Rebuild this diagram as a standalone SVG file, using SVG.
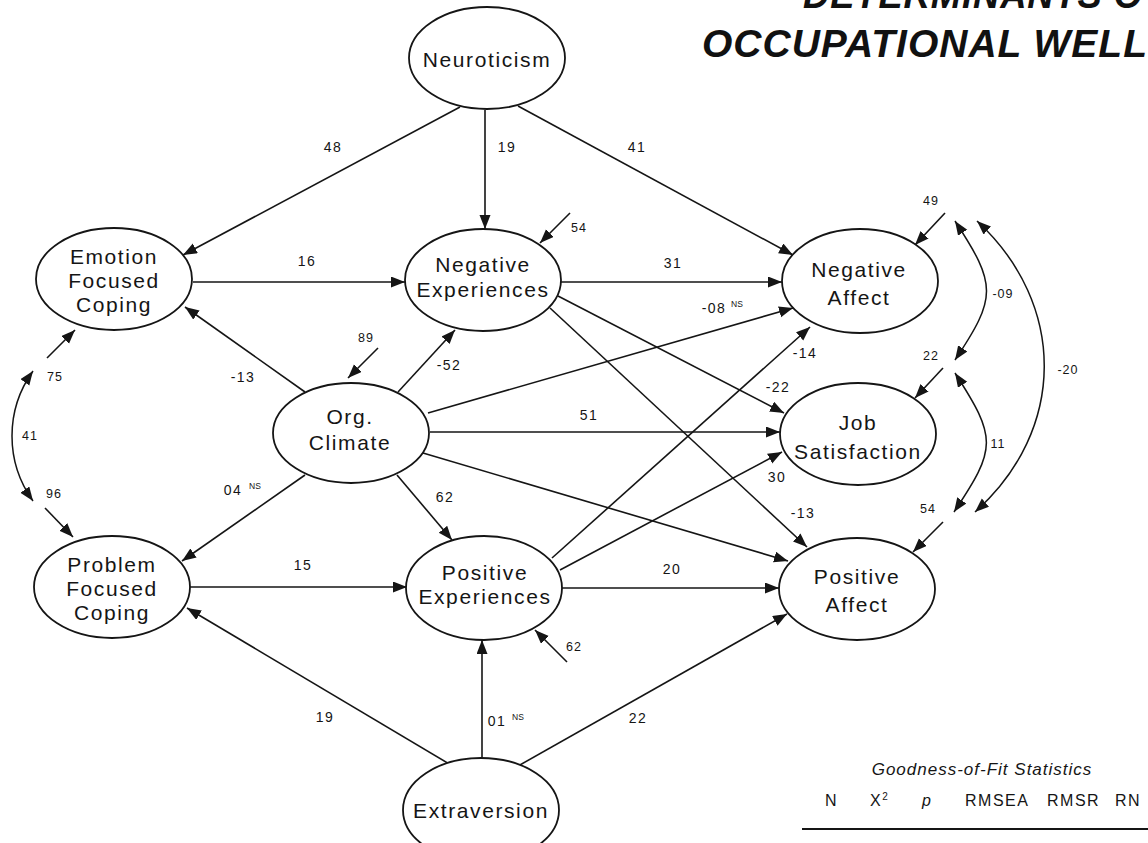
<svg xmlns="http://www.w3.org/2000/svg" width="1148" height="843" viewBox="0 0 1148 843">
<style>
.bg{fill:#ffffff}
.node ellipse{fill:#ffffff;stroke:#151515;stroke-width:1.8}
.node text{font-family:"Liberation Sans",Arial,sans-serif;font-size:21px;letter-spacing:1.6px;fill:#151515;text-anchor:middle}
.edge{stroke:#151515;stroke-width:1.6;fill:none;marker-end:url(#ah)}
.dbl{stroke:#151515;stroke-width:1.5;fill:none;marker-start:url(#ah);marker-end:url(#ah)}
.lbl{font-family:"Liberation Sans",Arial,sans-serif;font-size:14px;letter-spacing:1.4px;fill:#151515;text-anchor:middle}
.sm{font-family:"Liberation Sans",Arial,sans-serif;font-size:12.5px;letter-spacing:1px;fill:#151515;text-anchor:middle}
.ns{font-family:"Liberation Sans",Arial,sans-serif;font-size:8.5px;fill:#151515;text-anchor:start}
.title{font-family:"Liberation Sans",Arial,sans-serif;font-size:39px;font-weight:bold;font-style:italic;fill:#111;letter-spacing:1px}
.tab{font-family:"Liberation Sans",Arial,sans-serif;font-size:16px;fill:#151515;letter-spacing:1.5px}
</style>
<defs>
<marker id="ah" markerUnits="userSpaceOnUse" markerWidth="15" markerHeight="12" refX="14" refY="5.5" orient="auto-start-reverse" viewBox="0 0 15 12">
<path d="M0,0 L14,5.5 L0,11 z" fill="#151515"/>
</marker>
</defs>
<rect class="bg" x="0" y="0" width="1148" height="843"/>

<g id="title">
<text class="title" x="803" y="8" textLength="340" lengthAdjust="spacingAndGlyphs">DETERMINANTS O</text>
<text class="title" x="702" y="57">OCCUPATIONAL WELL</text>
</g>

<g id="connectors">
<line class="edge" x1="460" y1="107" x2="183" y2="255"/>
<line class="edge" x1="485" y1="110" x2="485" y2="229"/>
<line class="edge" x1="518" y1="106" x2="793" y2="255"/>
<line class="edge" x1="570" y1="213" x2="540" y2="243"/>
<line class="edge" x1="193" y1="282" x2="405" y2="282"/>
<line class="edge" x1="561" y1="282" x2="782" y2="282"/>
<line class="edge" x1="558" y1="296" x2="784" y2="413"/>
<line class="edge" x1="550" y1="308" x2="807" y2="547"/>
<line class="edge" x1="428" y1="413" x2="793" y2="308"/>
<line class="edge" x1="430" y1="432" x2="780" y2="432"/>
<line class="edge" x1="423" y1="453" x2="788" y2="561"/>
<line class="edge" x1="305" y1="392" x2="185" y2="307"/>
<line class="edge" x1="398" y1="392" x2="455" y2="330"/>
<line class="edge" x1="305" y1="475" x2="182" y2="561"/>
<line class="edge" x1="397" y1="475" x2="452" y2="540"/>
<line class="edge" x1="378" y1="348" x2="348" y2="378"/>
<line class="edge" x1="552" y1="558" x2="810" y2="327"/>
<line class="edge" x1="560" y1="570" x2="782" y2="452"/>
<line class="edge" x1="562" y1="588" x2="779" y2="588"/>
<line class="edge" x1="190" y1="587" x2="407" y2="587"/>
<line class="edge" x1="456" y1="768" x2="187" y2="608"/>
<line class="edge" x1="482" y1="758" x2="482" y2="640"/>
<line class="edge" x1="511" y1="770" x2="787" y2="614"/>
<line class="edge" x1="567" y1="662" x2="535" y2="630"/>
<line class="edge" x1="47" y1="358" x2="75" y2="330"/>
<line class="edge" x1="45" y1="508" x2="73" y2="537"/>
<path class="dbl" d="M33,371 C5,410 5,462 33,501"/>
<line class="edge" x1="945" y1="213" x2="915" y2="245"/>
<line class="edge" x1="943" y1="368" x2="915" y2="398"/>
<line class="edge" x1="943" y1="522" x2="913" y2="552"/>
<path class="dbl" d="M955,221 C997,285 997,297 955,360"/>
<path class="dbl" d="M955,373 C997,438 997,448 954,512"/>
<path class="dbl" d="M977,221 C1067,304 1067,430 975,512"/>
</g>

<g id="labels">
<text class="lbl" x="333" y="152">48</text>
<text class="lbl" x="507" y="152">19</text>
<text class="lbl" x="637" y="152">41</text>
<text class="sm" x="579" y="232">54</text>
<text class="lbl" x="307" y="266">16</text>
<text class="lbl" x="673" y="268">31</text>
<text class="lbl" x="714" y="313">-08</text><text class="ns" x="731" y="307">NS</text>
<text class="sm" x="366" y="342">89</text>
<text class="lbl" x="243" y="382">-13</text>
<text class="lbl" x="449" y="370">-52</text>
<text class="lbl" x="805" y="358">-14</text>
<text class="lbl" x="778" y="392">-22</text>
<text class="lbl" x="589" y="420">51</text>
<text class="lbl" x="777" y="482">30</text>
<text class="lbl" x="233" y="495">04</text><text class="ns" x="249" y="489">NS</text>
<text class="lbl" x="445" y="502">62</text>
<text class="lbl" x="803" y="518">-13</text>
<text class="lbl" x="303" y="570">15</text>
<text class="lbl" x="672" y="574">20</text>
<text class="sm" x="574" y="651">62</text>
<text class="lbl" x="325" y="722">19</text>
<text class="lbl" x="497" y="726">01</text><text class="ns" x="512" y="720">NS</text>
<text class="lbl" x="638" y="723">22</text>
<text class="sm" x="55" y="381">75</text>
<text class="sm" x="30" y="440">41</text>
<text class="sm" x="54" y="498">96</text>
<text class="sm" x="931" y="205">49</text>
<text class="sm" x="931" y="360">22</text>
<text class="sm" x="928" y="513">54</text>
<text class="sm" x="1003" y="298">-09</text>
<text class="sm" x="998" y="448">11</text>
<text class="sm" x="1068" y="374">-20</text>
</g>

<g id="neuroticism" class="node"><ellipse cx="487" cy="58" rx="78" ry="51"/><text x="487" y="67">Neuroticism</text></g>
<g id="emotion-focused-coping" class="node"><ellipse cx="114" cy="279" rx="78" ry="51"/><text x="114" y="264">Emotion</text><text x="114" y="288">Focused</text><text x="114" y="312">Coping</text></g>
<g id="negative-experiences" class="node"><ellipse cx="483" cy="280" rx="78" ry="51"/><text x="483" y="272">Negative</text><text x="483" y="297">Experiences</text></g>
<g id="org-climate" class="node"><ellipse cx="351" cy="433" rx="78" ry="50"/><text x="350" y="424">Org.</text><text x="350" y="450">Climate</text></g>
<g id="problem-focused-coping" class="node"><ellipse cx="112" cy="587" rx="78" ry="51"/><text x="112" y="572">Problem</text><text x="112" y="596">Focused</text><text x="112" y="620">Coping</text></g>
<g id="positive-experiences" class="node"><ellipse cx="484" cy="588" rx="78" ry="52"/><text x="485" y="580">Positive</text><text x="485" y="604">Experiences</text></g>
<g id="extraversion" class="node"><ellipse cx="481" cy="810" rx="78" ry="52"/><text x="481" y="818">Extraversion</text></g>
<g id="negative-affect" class="node"><ellipse cx="860" cy="281" rx="78" ry="52"/><text x="859" y="277">Negative</text><text x="859" y="305">Affect</text></g>
<g id="job-satisfaction" class="node"><ellipse cx="858" cy="434" rx="78" ry="51"/><text x="858" y="430">Job</text><text x="858" y="459">Satisfaction</text></g>
<g id="positive-affect" class="node"><ellipse cx="857" cy="589" rx="78" ry="51"/><text x="857" y="584">Positive</text><text x="857" y="612">Affect</text></g>

<g id="fit-table">
<text class="tab" x="982" y="775" text-anchor="middle" style="font-style:italic;font-size:17px;letter-spacing:1px">Goodness-of-Fit Statistics</text>
<text class="tab" x="825" y="806">N</text>
<text class="tab" x="870" y="806">X<tspan font-size="10" dy="-6">2</tspan></text>
<text class="tab" x="922" y="806" style="font-style:italic">p</text>
<text class="tab" x="965" y="806">RMSEA</text>
<text class="tab" x="1047" y="806">RMSR</text>
<text class="tab" x="1115" y="806">RN</text>
<line x1="802" y1="829" x2="1148" y2="829" stroke="#151515" stroke-width="2"/>
</g>
</svg>
